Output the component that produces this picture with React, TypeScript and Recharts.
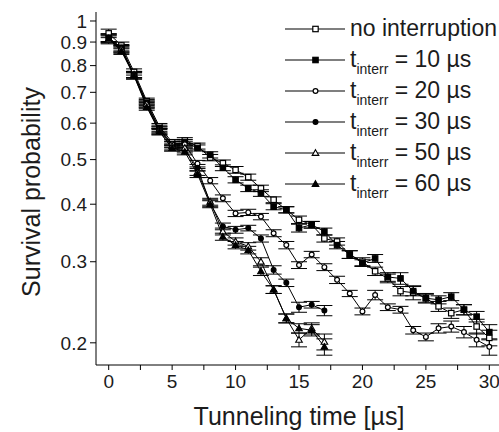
import React from 'react';
import { LineChart, Line, XAxis, YAxis, ErrorBar } from 'recharts';

// tunneling time in µs
const times = [0, 1, 2, 3, 4, 5, 6, 7, 8, 9, 10, 11, 12, 13, 14, 15, 16, 17, 18, 19, 20, 21, 22, 23, 24, 25, 26, 27, 28, 29, 30];

const noInterruption = [0.94, 0.885, 0.775, 0.67, 0.59, 0.545, 0.55, 0.535, 0.505, 0.491, 0.475, 0.458, 0.433, 0.409, 0.389, 0.37, 0.361, 0.337, 0.332, 0.311, 0.3, 0.286, 0.276, 0.259, 0.257, 0.25, 0.24, 0.232, 0.236, 0.217, 0.205];
const noInterruptionErr = [0.02, 0.015, 0.012, 0.01, 0.009, 0.008, 0.008, 0.008, 0.008, 0.008, 0.008, 0.007, 0.007, 0.006, 0.006, 0.007, 0.006, 0.006, 0.006, 0.006, 0.006, 0.006, 0.006, 0.006, 0.009, 0.006, 0.006, 0.006, 0.006, 0.008, 0.008];

const interr10 = [0.92, 0.875, 0.765, 0.665, 0.585, 0.54, 0.545, 0.53, 0.512, 0.48, 0.452, 0.433, 0.423, 0.395, 0.389, 0.355, 0.361, 0.349, 0.326, 0.311, 0.298, 0.305, 0.278, 0.276, 0.259, 0.25, 0.248, 0.252, 0.236, 0.228, 0.211];
const interr10Err = [0.018, 0.014, 0.012, 0.01, 0.009, 0.008, 0.008, 0.008, 0.008, 0.007, 0.007, 0.007, 0.007, 0.006, 0.006, 0.007, 0.006, 0.006, 0.006, 0.006, 0.005, 0.006, 0.006, 0.008, 0.006, 0.005, 0.005, 0.005, 0.006, 0.006, 0.008];

const interr20 = [0.915, 0.87, 0.765, 0.66, 0.58, 0.54, 0.54, 0.49, 0.45, 0.412, 0.382, 0.384, 0.376, 0.346, 0.326, 0.295, 0.311, 0.292, 0.274, 0.256, 0.234, 0.254, 0.239, 0.236, 0.213, 0.206, 0.215, 0.217, 0.211, 0.203, 0.196];
const interr20Err = [0.018, 0.014, 0.012, 0.01, 0.009, 0.008, 0.008, 0.008, 0.007, 0.007, 0.006, 0.006, 0.006, 0.006, 0.006, 0.005, 0.005, 0.005, 0.005, 0.004, 0.004, 0.006, 0.004, 0.004, 0.004, 0.004, 0.005, 0.006, 0.006, 0.007, 0.008];

const interr30 = [0.92, 0.865, 0.76, 0.655, 0.575, 0.53, 0.525, 0.48, 0.402, 0.358, 0.352, 0.355, 0.337, 0.288, 0.27, 0.239, 0.242, 0.235];
const interr30Err = [0.018, 0.014, 0.012, 0.01, 0.009, 0.008, 0.008, 0.008, 0.007, 0.006, 0.006, 0.005, 0.006, 0.006, 0.005, 0.006, 0.004, 0.006];

const interr50 = [0.91, 0.87, 0.765, 0.66, 0.58, 0.535, 0.53, 0.47, 0.405, 0.349, 0.332, 0.324, 0.3, 0.261, 0.226, 0.203, 0.215, 0.201];
const interr50Err = [0.018, 0.014, 0.012, 0.01, 0.009, 0.008, 0.008, 0.008, 0.007, 0.006, 0.006, 0.006, 0.006, 0.005, 0.005, 0.007, 0.006, 0.008];

const interr60 = [0.915, 0.86, 0.76, 0.65, 0.575, 0.53, 0.52, 0.465, 0.4, 0.34, 0.326, 0.318, 0.286, 0.261, 0.226, 0.215, 0.213, 0.196];
const interr60Err = [0.018, 0.014, 0.012, 0.01, 0.009, 0.008, 0.008, 0.008, 0.007, 0.006, 0.006, 0.006, 0.006, 0.005, 0.005, 0.005, 0.006, 0.008];

const xTicks = [0, 2.5, 5, 7.5, 10, 12.5, 15, 17.5, 20, 22.5, 25, 27.5, 30];
const yTicks = [0.2, 0.3, 0.4, 0.5, 0.6, 0.7, 0.8, 0.9, 1];

type Shape = 'square' | 'circle' | 'triangle';

const series = [
  { key: 'none', label: 'no interruption', sub: false, values: noInterruption, errors: noInterruptionErr, shape: 'square' as Shape, filled: false },
  { key: 't10', label: '10 µs', sub: true, values: interr10, errors: interr10Err, shape: 'square' as Shape, filled: true },
  { key: 't20', label: '20 µs', sub: true, values: interr20, errors: interr20Err, shape: 'circle' as Shape, filled: false },
  { key: 't30', label: '30 µs', sub: true, values: interr30, errors: interr30Err, shape: 'circle' as Shape, filled: true },
  { key: 't50', label: '50 µs', sub: true, values: interr50, errors: interr50Err, shape: 'triangle' as Shape, filled: false },
  { key: 't60', label: '60 µs', sub: true, values: interr60, errors: interr60Err, shape: 'triangle' as Shape, filled: true },
];

const FONT = '"Liberation Sans", Arial, sans-serif';
const INK = '#1c1c1c';

const Marker = ({ cx, cy, shape, filled }: { cx: number; cy: number; shape: Shape; filled: boolean }) => {
  const fill = filled ? '#000' : '#fff';
  if (shape === 'square') {
    return <rect x={cx - 2.7} y={cy - 2.7} width={5.4} height={5.4} fill={fill} stroke="#000" strokeWidth={1.2} />;
  }
  if (shape === 'circle') {
    return <circle cx={cx} cy={cy} r={2.4} fill={fill} stroke="#000" strokeWidth={1.2} />;
  }
  return (
    <polygon
      points={`${cx},${cy - 3.3} ${cx + 3.3},${cy + 2.4} ${cx - 3.3},${cy + 2.4}`}
      fill={fill}
      stroke="#000"
      strokeWidth={1.1}
    />
  );
};

const App: React.FC = () => {
  return (
    <div style={{ position: 'absolute', left: 0, top: 0, width: 499, height: 432, overflow: 'hidden', background: '#fff' }}>
      <LineChart width={510} height={432} margin={{ top: 12, right: 8, left: 0, bottom: 0 }}>
        <XAxis
          type="number"
          dataKey="t"
          domain={[-1, 31]}
          ticks={xTicks}
          interval={0}
          allowDataOverflow
          height={67}
          tickSize={5}
          tickMargin={5}
          stroke="#000"
          tickFormatter={(v: number) => (v % 5 === 0 ? String(v) : '')}
          tick={{ fontFamily: FONT, fontSize: 19, fill: INK }}
          label={{
            content: () => (
              <text
                x={299}
                y={416}
                textAnchor="middle"
                dominantBaseline="central"
                style={{ fontFamily: FONT, fontSize: 25, fill: INK }}
              >
                Tunneling time [µs]
              </text>
            ),
          }}
        />
        <XAxis xAxisId="top" orientation="top" type="number" domain={[-1, 31]} height={0} tick={false} tickLine={false} stroke="#000" />
        <YAxis
          scale="log"
          type="number"
          domain={[0.179, 1.046]}
          ticks={yTicks}
          interval={0}
          allowDataOverflow
          width={96}
          tickSize={6}
          tickMargin={3}
          stroke="#000"
          tick={{ fontFamily: FONT, fontSize: 19, fill: INK }}
          tickFormatter={(v: number) => String(v)}
          label={{
            content: () => (
              <text
                x={31}
                y={192}
                transform="rotate(-90, 31, 192)"
                textAnchor="middle"
                dominantBaseline="central"
                style={{ fontFamily: FONT, fontSize: 25, fill: INK }}
              >
                Survival probability
              </text>
            ),
          }}
        />
        {series.map((s) => (
          <Line
            key={s.key}
            data={s.values.map((v, i) => ({ t: times[i], v, e: s.errors[i] }))}
            dataKey="v"
            name={s.label}
            type="linear"
            stroke="#000"
            strokeWidth={1}
            isAnimationActive={false}
            activeDot={false}
            dot={(p: any) => <Marker key={`${s.key}-${p.index}`} cx={p.cx} cy={p.cy} shape={s.shape} filled={s.filled} />}
          >
            <ErrorBar dataKey="e" width={8} stroke="#000" strokeWidth={1} direction="y" />
          </Line>
        ))}
      </LineChart>
      <svg width={499} height={432} style={{ position: 'absolute', left: 0, top: 0, pointerEvents: 'none' }}>
        {series.map((s, i) => {
          const y = 29 + i * 31;
          return (
            <g key={s.key}>
              <line x1={285} x2={345} y1={y} y2={y} stroke="#000" strokeWidth={1.2} />
              <Marker cx={315.5} cy={y} shape={s.shape} filled={s.filled} />
              <text x={350} y={y + 7} style={{ fontFamily: FONT, fontSize: 23, fill: INK }}>
                {s.sub ? (
                  <>
                    t
                    <tspan fontSize={14} dy={7}>interr</tspan>
                    <tspan dy={-7}>{` = ${s.label}`}</tspan>
                  </>
                ) : (
                  s.label
                )}
              </text>
            </g>
          );
        })}
      </svg>
    </div>
  );
};

export default App;
